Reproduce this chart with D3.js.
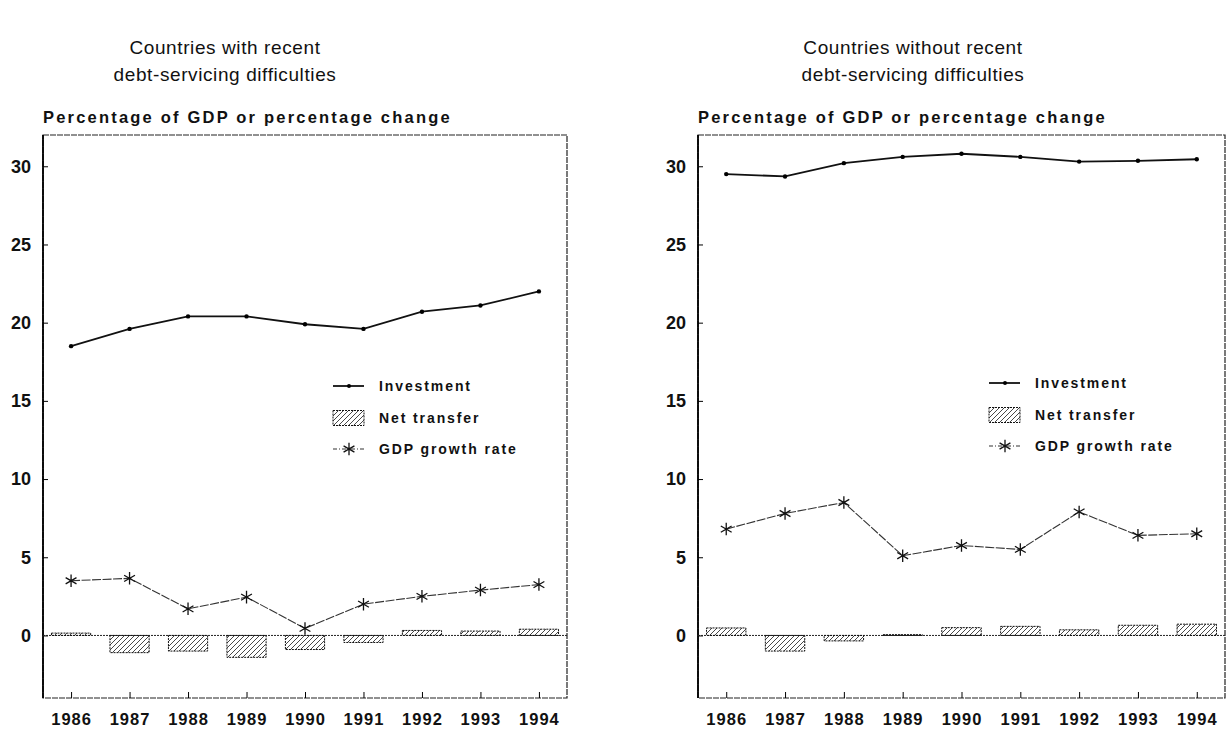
<!DOCTYPE html>
<html>
<head>
<meta charset="utf-8">
<script src="https://cdn.jsdelivr.net/npm/d3@7.9.0/dist/d3.min.js"></script>
<style>
  html, body { margin: 0; padding: 0; background: #fff; }
  svg { display: block; font-family: "Liberation Sans", Arial, sans-serif; }
</style>
</head>
<body>
<svg id="chart" width="1230" height="730"></svg>
<script>
// years on the x axis
const years = [1986, 1987, 1988, 1989, 1990, 1991, 1992, 1993, 1994];
const yTicks = [0, 5, 10, 15, 20, 25, 30];

// countries with recent debt-servicing difficulties
const withInvestment = [18.5, 19.6, 20.4, 20.4, 19.9, 19.6, 20.7, 21.1, 22.0];
const withTransfer   = [0.15, -1.1, -1.0, -1.4, -0.9, -0.45, 0.32, 0.28, 0.4];
const withGdp        = [3.5, 3.65, 1.7, 2.45, 0.45, 2.0, 2.5, 2.9, 3.25];

// countries without recent debt-servicing difficulties
const withoutInvestment = [29.5, 29.35, 30.2, 30.6, 30.8, 30.6, 30.3, 30.35, 30.45];
const withoutTransfer   = [0.48, -1.0, -0.35, 0.05, 0.5, 0.58, 0.36, 0.65, 0.72];
const withoutGdp        = [6.8, 7.8, 8.5, 5.1, 5.75, 5.5, 7.9, 6.4, 6.5];

const legendLabels = ['Investment', 'Net transfer', 'GDP growth rate'];
const yLabel = 'Percentage of GDP or percentage change';

const svg = d3.select('#chart');

// hatch pattern for the bars
const defs = svg.append('defs');
const pat = defs.append('pattern')
    .attr('id', 'hatch')
    .attr('patternUnits', 'userSpaceOnUse')
    .attr('width', 5)
    .attr('height', 5);
pat.append('path')
    .attr('d', 'M-1,1 l2,-2 M0,5 l5,-5 M4,6 l2,-2')
    .attr('stroke', '#333')
    .attr('stroke-width', 0.9);

const panels = [
    { title: ['Countries with recent', 'debt-servicing difficulties'], titleX: 225,
      x0: 43, x1: 567, legendX: 333, legendY: 386,
      inv: withInvestment, tr: withTransfer, gdp: withGdp },
    { title: ['Countries without recent', 'debt-servicing difficulties'], titleX: 913,
      x0: 698, x1: 1225, legendX: 989, legendY: 383,
      inv: withoutInvestment, tr: withoutTransfer, gdp: withoutGdp }
];

const plotTop = 135, plotBottom = 698;

const y = d3.scaleLinear()
    .domain([-4, 32])
    .range([plotBottom, plotTop]);

const star = d3.symbol().type(d3.symbolAsterisk).size(110);

panels.forEach(p => {
    const g = svg.append('g');

    const x = d3.scalePoint()
        .domain(years)
        .range([p.x0, p.x1])
        .padding(0.48);
    const barW = x.step() * 0.67;

    // title
    p.title.forEach((t, i) => {
        g.append('text')
            .attr('x', p.titleX)
            .attr('y', 54 + i * 27)
            .attr('text-anchor', 'middle')
            .style('font-size', '19px')
            .style('letter-spacing', '0.6px')
            .attr('fill', '#111')
            .text(t);
    });

    g.append('text')
        .attr('x', p.x0)
        .attr('y', plotTop - 12)
        .style('font-size', '16.5px')
        .style('font-weight', 'bold')
        .style('letter-spacing', '2.2px')
        .attr('fill', '#111')
        .text(yLabel);

    // frame
    g.append('rect')
        .attr('x', p.x0)
        .attr('y', plotTop)
        .attr('width', p.x1 - p.x0)
        .attr('height', plotBottom - plotTop)
        .attr('fill', 'none')
        .attr('stroke', '#222')
        .attr('stroke-width', 1.2)
        .attr('stroke-dasharray', '6,1');
    g.append('line')
        .attr('x1', p.x0).attr('x2', p.x0)
        .attr('y1', plotTop).attr('y2', plotBottom)
        .attr('stroke', '#000')
        .attr('stroke-width', 1.8);

    // y axis
    const yAxis = d3.axisLeft(y)
        .tickValues(yTicks)
        .tickSize(-5)
        .tickPadding(12);
    g.append('g')
        .attr('transform', `translate(${p.x0},0)`)
        .call(yAxis)
        .call(s => s.select('.domain').remove())
        .call(s => s.selectAll('text')
            .style('font-size', '18px')
            .style('font-weight', 'bold')
            .style('font-family', '"Liberation Sans", Arial, sans-serif')
            .attr('fill', '#111'));

    // x axis
    const xAxis = d3.axisBottom(x)
        .tickSize(-6)
        .tickPadding(15);
    g.append('g')
        .attr('transform', `translate(0,${plotBottom})`)
        .call(xAxis)
        .call(s => s.select('.domain').remove())
        .call(s => s.selectAll('text')
            .style('font-size', '16.5px')
            .style('font-weight', 'bold')
            .style('letter-spacing', '1px')
            .style('font-family', '"Liberation Sans", Arial, sans-serif')
            .attr('fill', '#111'));

    // zero line
    g.append('line')
        .attr('x1', p.x0).attr('x2', p.x1)
        .attr('y1', y(0)).attr('y2', y(0))
        .attr('stroke', '#222')
        .attr('stroke-width', 1)
        .attr('stroke-dasharray', '2,1');

    // net transfer bars
    g.selectAll('.bar')
        .data(p.tr)
        .enter()
        .append('rect')
        .attr('class', 'bar')
        .attr('x', (d, i) => x(years[i]) - barW / 2)
        .attr('y', d => y(Math.max(0, d)))
        .attr('width', barW)
        .attr('height', d => Math.abs(y(d) - y(0)))
        .attr('fill', 'url(#hatch)')
        .attr('stroke', '#111')
        .attr('stroke-width', 1)
        .attr('stroke-dasharray', '2,1');

    // investment line
    const line = d3.line()
        .x((d, i) => x(years[i]))
        .y(d => y(d));
    g.append('path')
        .datum(p.inv)
        .attr('d', line)
        .attr('fill', 'none')
        .attr('stroke', '#111')
        .attr('stroke-width', 1.8);
    g.selectAll('.inv-dot')
        .data(p.inv)
        .enter()
        .append('circle')
        .attr('cx', (d, i) => x(years[i]))
        .attr('cy', d => y(d))
        .attr('r', 2.2)
        .attr('fill', '#000');

    // GDP growth line
    g.append('path')
        .datum(p.gdp)
        .attr('d', line)
        .attr('fill', 'none')
        .attr('stroke', '#333')
        .attr('stroke-width', 1.1)
        .attr('stroke-dasharray', '9,1.5');
    g.selectAll('.gdp-star')
        .data(p.gdp)
        .enter()
        .append('path')
        .attr('transform', (d, i) => `translate(${x(years[i])},${y(d)})`)
        .attr('d', star)
        .attr('fill', 'none')
        .attr('stroke', '#111')
        .attr('stroke-width', 1.3);

    // legend
    const lg = g.append('g').attr('transform', `translate(${p.legendX},${p.legendY})`);
    const rowH = 31.5;
    lg.append('line')
        .attr('x1', 0).attr('x2', 31).attr('y1', 0).attr('y2', 0)
        .attr('stroke', '#111').attr('stroke-width', 1.8);
    lg.append('circle').attr('cx', 16).attr('cy', 0).attr('r', 2).attr('fill', '#000');
    lg.append('rect')
        .attr('x', 0).attr('y', rowH - 7).attr('width', 31).attr('height', 15)
        .attr('fill', 'url(#hatch)')
        .attr('stroke', '#111').attr('stroke-width', 1).attr('stroke-dasharray', '2,1');
    lg.append('line')
        .attr('x1', 0).attr('x2', 31).attr('y1', rowH * 2).attr('y2', rowH * 2)
        .attr('stroke', '#333').attr('stroke-width', 1.1).attr('stroke-dasharray', '4,2,1,2');
    lg.append('path')
        .attr('transform', `translate(16,${rowH * 2})`)
        .attr('d', star)
        .attr('fill', 'none').attr('stroke', '#111').attr('stroke-width', 1.3);

    legendLabels.forEach((t, i) => {
        lg.append('text')
            .attr('x', 46)
            .attr('y', i * rowH + 5)
            .style('font-size', '14px')
            .style('font-weight', 'bold')
            .style('letter-spacing', '1.9px')
            .attr('fill', '#111')
            .text(t);
    });
});
</script>
</body>
</html>
